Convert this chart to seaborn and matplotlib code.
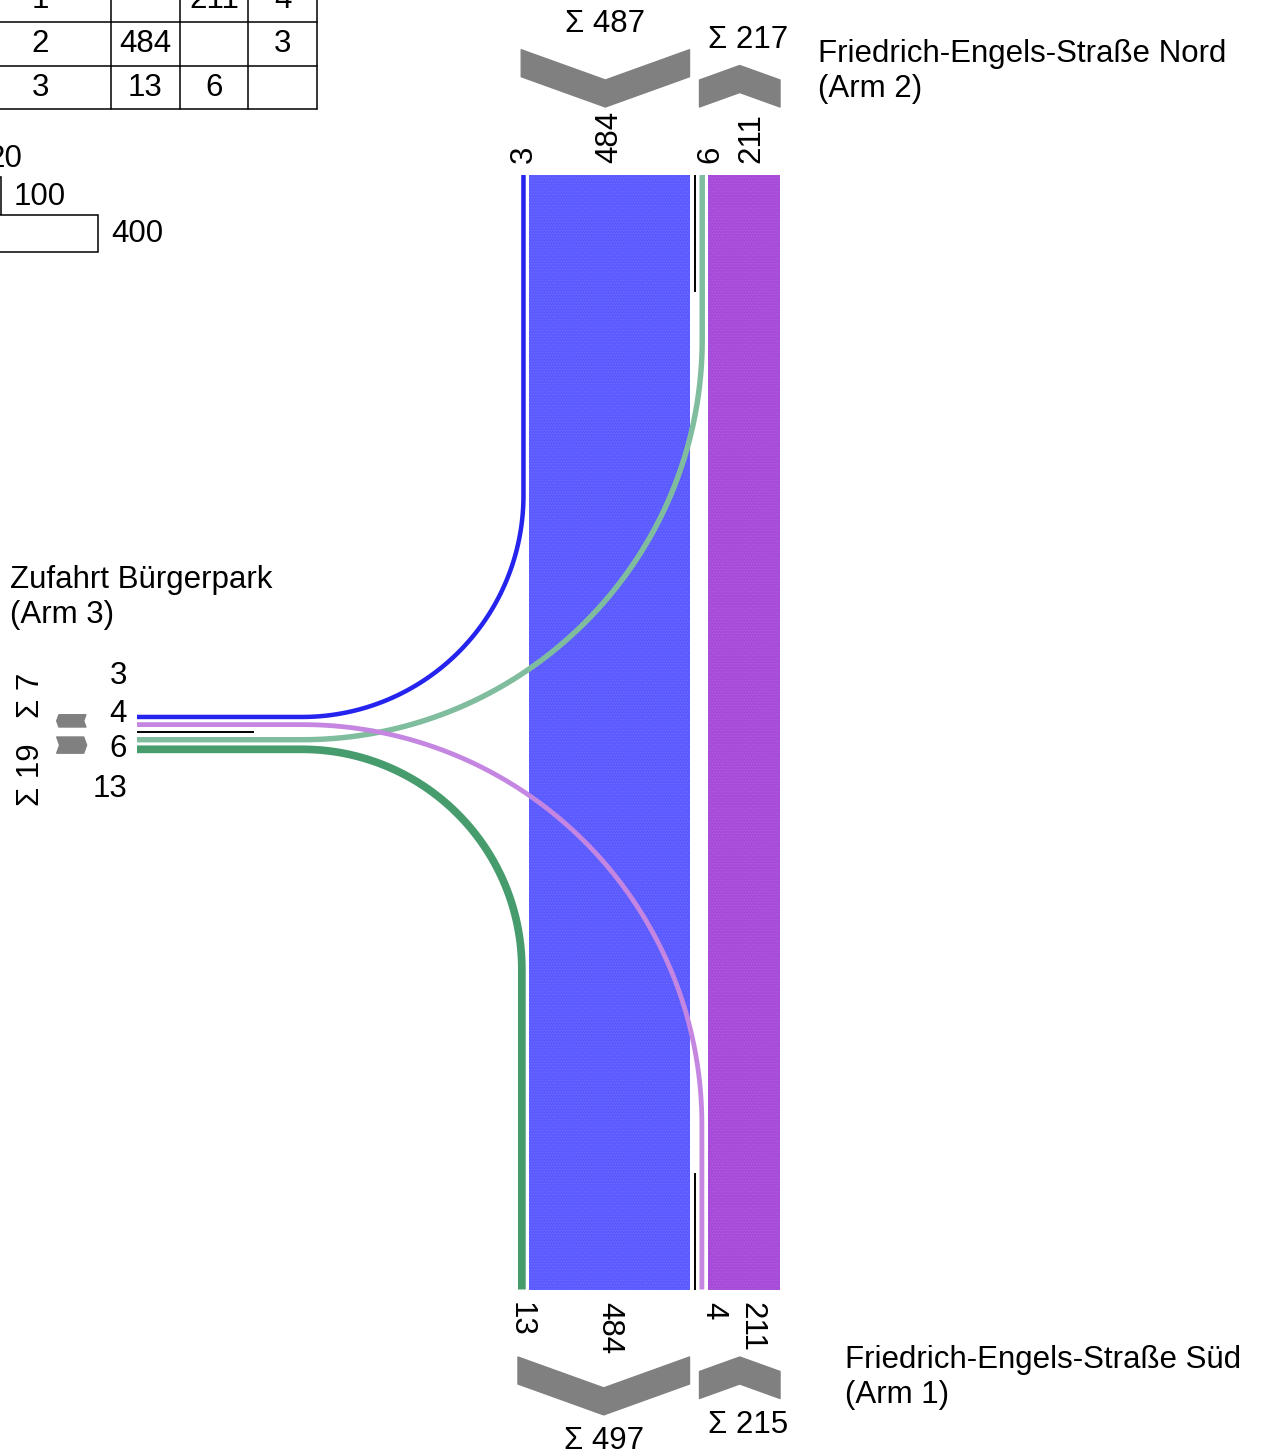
import numpy as np
import matplotlib
matplotlib.use("Agg")
import matplotlib.pyplot as plt
from matplotlib.patches import Rectangle, Polygon
import seaborn as sns

# ---------------- data ----------------
arm_names = ["Friedrich-Engels-Straße Süd\n(Arm 1)",
             "Friedrich-Engels-Straße Nord\n(Arm 2)",
             "Zufahrt Bürgerpark\n(Arm 3)"]
flow_from = [1, 1, 2, 2, 3, 3]
flow_to = [2, 3, 1, 3, 1, 2]
flow_vals = [211, 4, 484, 3, 13, 6]
flow_colors = ["#a64ad9", "#c486e1", "#5a5aff", "#2424ee", "#469c6d", "#80bd9e"]
table_header = ["von \\ nach", "1", "2", "3"]
table_rows = ["1", "2", "3"]
legend_vals = [20, 100, 400]

# ---------------- style ----------------
sns.set_theme(style="white")
plt.rcParams["font.family"] = ["Liberation Sans", "DejaVu Sans"]
plt.rcParams["text.color"] = "black"
plt.rcParams["hatch.linewidth"] = 0.6
FS = 22.5
GREY = "#808080"

fig = plt.figure(figsize=(12.63, 14.53), dpi=100)
ax = fig.add_axes([0, 0, 1, 1])
ax.set_xlim(0, 1263)
ax.set_ylim(1453, 0)
ax.axis("off")

PX = 0.72  # points per pixel


def w(v):
    return 0.325 * v + 3.5


def val(f, t):
    for a, b, v in zip(flow_from, flow_to, flow_vals):
        if a == f and b == t:
            return v
    return 0


def col(f, t):
    for a, b, c in zip(flow_from, flow_to, flow_colors):
        if a == f and b == t:
            return c
    return "k"


# layout constants
TOP_Y, BOT_Y, LEFT_X = 175.0, 1289.5, 137.0
SEP_X, SEP_Y = 694.5, 732.0
GAP_SEP, GAP, TURN_X, SEP_LEN = 5.0, 3.0, 302.0, 117.0

# vertical lanes (x extents)
vx = {}
ms_r = SEP_X - GAP_SEP
ms_l = ms_r - w(val(2, 1))
vx[(2, 1)] = (ms_l, ms_r)
vx[(2, 3)] = (ms_l - GAP - w(val(2, 3)), ms_l - GAP)
vx[(3, 1)] = (ms_l - GAP - w(val(3, 1)), ms_l - GAP)
nb_l = SEP_X + GAP_SEP
vx[(3, 2)] = (nb_l, nb_l + w(val(3, 2)))
vx[(1, 3)] = (nb_l, nb_l + w(val(1, 3)))
mn_l = nb_l + max(w(val(3, 2)), w(val(1, 3))) + GAP
vx[(1, 2)] = (mn_l, mn_l + w(val(1, 2)))

# horizontal lanes (y extents)
hy = {}
hy[(1, 3)] = (SEP_Y - GAP_SEP - w(val(1, 3)), SEP_Y - GAP_SEP)
hy[(2, 3)] = (hy[(1, 3)][0] - GAP - w(val(2, 3)), hy[(1, 3)][0] - GAP)
hy[(3, 2)] = (SEP_Y + GAP_SEP, SEP_Y + GAP_SEP + w(val(3, 2)))
hy[(3, 1)] = (hy[(3, 2)][1] + GAP, hy[(3, 2)][1] + GAP + w(val(3, 1)))

# straight through bands
for key in [(2, 1), (1, 2)]:
    x0, x1 = vx[key]
    base = col(*key)
    ax.add_patch(Rectangle((x0, TOP_Y), x1 - x0, BOT_Y - TOP_Y,
                           facecolor=base, edgecolor="none", zorder=1))
    ax.add_patch(Rectangle((x0, TOP_Y), x1 - x0, BOT_Y - TOP_Y,
                           facecolor="none", edgecolor=(1, 1, 1, 0.10),
                           linewidth=0, hatch="......", zorder=1.1))


# turning flows
th = np.linspace(0, np.pi / 2, 80)


def path(key):
    xv = sum(vx[key]) / 2
    yh = sum(hy[key]) / 2
    r = xv - TURN_X
    if key == (2, 3):
        xs = np.r_[xv, TURN_X + r * np.cos(th), LEFT_X]
        ys = np.r_[TOP_Y, yh - r + r * np.sin(th), yh]
    elif key == (3, 1):
        xs = np.r_[LEFT_X, TURN_X + r * np.sin(th), xv]
        ys = np.r_[yh, yh + r - r * np.cos(th), BOT_Y]
    elif key == (3, 2):
        xs = np.r_[LEFT_X, TURN_X + r * np.sin(th), xv]
        ys = np.r_[yh, yh - r + r * np.cos(th), TOP_Y]
    else:  # (1, 3)
        xs = np.r_[xv, TURN_X + r * np.cos(th), LEFT_X]
        ys = np.r_[BOT_Y, yh + r - r * np.sin(th), yh]
    return xs, ys


for key in [(2, 3), (3, 1), (3, 2), (1, 3)]:
    xs, ys = path(key)
    sns.lineplot(x=xs, y=ys, sort=False, estimator=None, color=col(*key),
                 linewidth=w(val(*key)) * PX, ax=ax, legend=False,
                 solid_capstyle="butt", solid_joinstyle="round", zorder=2)

# separators
ax.plot([SEP_X, SEP_X], [TOP_Y, TOP_Y + SEP_LEN], color="black", lw=1.4, solid_capstyle="butt", zorder=3)
ax.plot([SEP_X, SEP_X], [BOT_Y - SEP_LEN, BOT_Y], color="black", lw=1.4, solid_capstyle="butt", zorder=3)
ax.plot([LEFT_X, LEFT_X + SEP_LEN], [SEP_Y, SEP_Y], color="black", lw=1.4, solid_capstyle="butt", zorder=3)

# chevrons
T, SLOPE = 27.0, 0.36


def chevron_v(x0, x1, y_ext, down, anchor_bottom):
    d = SLOPE * (x1 - x0) / 2
    xm = (x0 + x1) / 2
    if anchor_bottom:
        yb = y_ext
        if down:
            pts = [(x0, yb - d - T), (xm, yb - T), (x1, yb - d - T), (x1, yb - d), (xm, yb), (x0, yb - d)]
        else:
            pts = [(x0, yb - T), (xm, yb - d - T), (x1, yb - T), (x1, yb), (xm, yb - d), (x0, yb)]
    else:
        yt = y_ext
        if down:
            pts = [(x0, yt), (xm, yt + d), (x1, yt), (x1, yt + T), (xm, yt + d + T), (x0, yt + T)]
        else:
            pts = [(x0, yt + d), (xm, yt), (x1, yt + d), (x1, yt + d + T), (xm, yt + T), (x0, yt + d + T)]
    ax.add_patch(Polygon(pts, closed=True, facecolor=GREY, edgecolor=GREY, lw=1, joinstyle="round", zorder=2))


def chevron_h(y0, y1, xl, left):
    d = SLOPE * (y1 - y0) / 2
    ym = (y0 + y1) / 2
    if left:
        pts = [(xl + d, y0), (xl + d + T, y0), (xl + T, ym), (xl + d + T, y1), (xl + d, y1), (xl, ym)]
    else:
        pts = [(xl, y0), (xl + T, y0), (xl + d + T, ym), (xl + T, y1), (xl, y1), (xl + d, ym)]
    ax.add_patch(Polygon(pts, closed=True, facecolor=GREY, edgecolor=GREY, lw=1, joinstyle="round", zorder=2))


top_L = (vx[(2, 3)][0], vx[(2, 1)][1])
top_R = (vx[(3, 2)][0], vx[(1, 2)][1])
bot_L = (vx[(3, 1)][0], vx[(2, 1)][1])
bot_R = (vx[(1, 3)][0], vx[(1, 2)][1])
CH_TOP = TOP_Y - 68
CH_BOT = BOT_Y + 67.5
chevron_v(*top_L, CH_TOP, True, True)
chevron_v(*top_R, CH_TOP, False, True)
chevron_v(*bot_L, CH_BOT, True, False)
chevron_v(*bot_R, CH_BOT, False, False)
lft_T = (hy[(2, 3)][0], hy[(1, 3)][1])
lft_B = (hy[(3, 2)][0], hy[(3, 1)][1])
chevron_h(*lft_T, 56.7, True)
chevron_h(*lft_B, 56.7, False)

# lane labels - top / bottom
for key, dx in zip([(2, 3), (2, 1), (3, 2), (1, 2)], [0, 0, 8, 7]):
    ax.text(sum(vx[key]) / 2 + dx, TOP_Y - 12, str(val(*key)), rotation=90,
            rotation_mode="anchor", ha="left", va="center", fontsize=FS)
for key, dx in zip([(3, 1), (2, 1), (1, 3), (1, 2)], [-1.5, 0, 11, 7]):
    ax.text(sum(vx[key]) / 2 + dx, BOT_Y + 12, str(val(*key)), rotation=-90,
            rotation_mode="anchor", ha="left", va="center", fontsize=FS)

# sums
out2 = sum(v for f, v in zip(flow_from, flow_vals) if f == 2)
in2 = sum(v for t, v in zip(flow_to, flow_vals) if t == 2)
in1 = sum(v for t, v in zip(flow_to, flow_vals) if t == 1)
out1 = sum(v for f, v in zip(flow_from, flow_vals) if f == 1)
in3 = sum(v for t, v in zip(flow_to, flow_vals) if t == 3)
out3 = sum(v for f, v in zip(flow_from, flow_vals) if f == 3)
dL = SLOPE * (top_L[1] - top_L[0]) / 2
dR = SLOPE * (top_R[1] - top_R[0]) / 2
ax.text(sum(top_L) / 2, CH_TOP - dL - T - 25.5, f"Σ {out2}", ha="center", va="center", fontsize=FS)
ax.text(sum(top_R) / 2 + 8, CH_TOP - dR - T - 25.5, f"Σ {in2}", ha="center", va="center", fontsize=FS)
dL = SLOPE * (bot_L[1] - bot_L[0]) / 2
dR = SLOPE * (bot_R[1] - bot_R[0]) / 2
ax.text(sum(bot_L) / 2, CH_BOT + dL + T + 26.5, f"Σ {in1}", ha="center", va="center", fontsize=FS)
ax.text(sum(bot_R) / 2 + 8, CH_BOT + dR + T + 26.5, f"Σ {out1}", ha="center", va="center", fontsize=FS)

# left arm labels
ax.text(31, SEP_Y - 14, f"Σ {in3}", rotation=90, rotation_mode="anchor", ha="left", va="center", fontsize=FS)
ax.text(31, SEP_Y + 11, f"Σ {out3}", rotation=90, rotation_mode="anchor", ha="right", va="center", fontsize=FS)
for key, dy in zip([(2, 3), (1, 3), (3, 2), (3, 1)], [-56, -18, 17, 57]):
    ax.text(127, SEP_Y + dy, str(val(*key)), ha="right", va="center", fontsize=FS)

# arm names
ax.text(818, 39, arm_names[1], ha="left", va="top", fontsize=FS, linespacing=1.2)
ax.text(845, 1345, arm_names[0], ha="left", va="top", fontsize=FS, linespacing=1.2)
ax.text(10, 565, arm_names[2], ha="left", va="top", fontsize=FS, linespacing=1.2)

# OD table (partly outside the canvas)
col_edges = [-31, 111, 180, 248, 317]
row_edges = [-66, -22, 21.7, 65.7, 109.4]
for xe in col_edges:
    ax.plot([xe, xe], [row_edges[0], row_edges[-1]], color="black", lw=1.1)
for ye in row_edges:
    ax.plot([col_edges[0], col_edges[-1]], [ye, ye], color="black", lw=1.1)
cells = [table_header] + [[r] + [("" if int(r) == t else str(val(int(r), t))) for t in (1, 2, 3)] for r in table_rows]
for i, row in enumerate(cells):
    yc = (row_edges[i] + row_edges[i + 1]) / 2
    for j, txt in enumerate(row):
        xc = (col_edges[j] + col_edges[j + 1]) / 2
        ax.text(xc, yc, txt, ha="center", va="center", fontsize=FS)

# scale legend
LEG_L, LEG_TOP, LEG_H = 98 - w(400), 139.5, 37.5
for i, v in enumerate(legend_vals):
    y0 = LEG_TOP + i * LEG_H
    ax.add_patch(Rectangle((LEG_L, y0), w(v), LEG_H, facecolor="white", edgecolor="black", lw=1.1))
    ax.text(LEG_L + w(v) + 13, y0 + LEG_H / 2 + 1, str(v), ha="left", va="center", fontsize=FS)

fig.savefig("out.png", dpi=100)
